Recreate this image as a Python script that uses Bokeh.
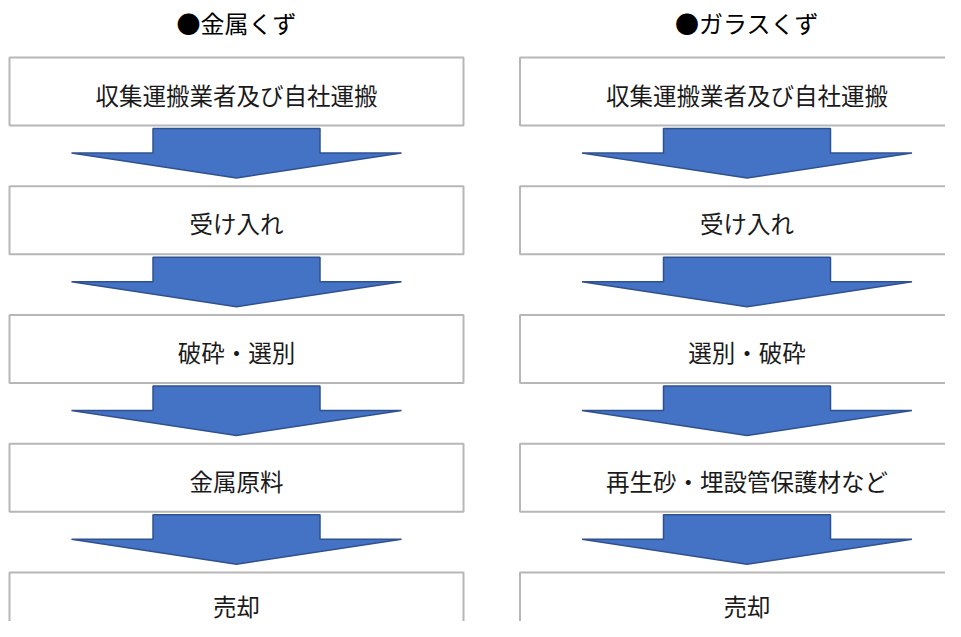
from bokeh.plotting import figure
from bokeh.models import Range1d
from bokeh.core.properties import value
from bokeh.embed import file_html
from bokeh.resources import INLINE

# ---- data ----
titles = ["●金属くず", "●ガラスくず"]
metal_steps = ["収集運搬業者及び自社運搬", "受け入れ", "破砕・選別", "金属原料", "売却"]
glass_steps = ["収集運搬業者及び自社運搬", "受け入れ", "選別・破砕", "再生砂・埋設管保護材など", "売却"]
columns = [metal_steps, glass_steps]

# ---- layout (screen pixel coordinates) ----
W, H = 945, 621
col_centers = [236, 746.5]
box_half = 227
box_top0 = 57
box_pitch = 128.75
box_h = 68
shaft_half = 83.5
wing_half = 165
FONT = value("Noto Sans CJK JP")

p = figure(width=W, height=H, output_backend="svg", toolbar_location=None,
           x_range=Range1d(0, W), y_range=Range1d(H, 0),
           min_border=0, min_border_left=0, min_border_right=0,
           min_border_top=0, min_border_bottom=0)
p.axis.visible = False
p.grid.visible = False
p.outline_line_color = None
p.background_fill_color = "white"
p.border_fill_color = "white"

bx, by, bw, bh, tx, ty, tt = [], [], [], [], [], [], []
axs, ays = [], []
for cx, steps in zip(col_centers, columns):
    for i, label in enumerate(steps):
        top = box_top0 + i * box_pitch
        bx.append(cx)
        by.append(top + box_h / 2)
        bw.append(2 * box_half)
        bh.append(box_h)
        tx.append(cx)
        ty.append(min(top + box_h / 2 + 3, H - 16))
        tt.append(label)
        if i < len(steps) - 1:
            bot = top + box_h
            s_top = bot + 3
            sh = bot + 27.5
            tip = bot + 52.5
            axs.append([cx - shaft_half, cx + shaft_half, cx + shaft_half,
                        cx + wing_half, cx, cx - wing_half, cx - shaft_half])
            ays.append([s_top, s_top, sh, sh, tip, sh, sh])

p.rect(x=bx, y=by, width=bw, height=bh, fill_color="white",
       line_color="#b7b7b7", line_width=2)
p.patches(xs=axs, ys=ays, fill_color="#4472C4", line_color="#2F528F",
          line_width=1.5)
p.text(x=tx, y=ty, text=tt, text_font=FONT, text_font_size="23.5px",
       text_align="center", text_baseline="middle", text_color="#1a1a1a")
p.text(x=col_centers, y=[22, 22], text=titles, text_font=FONT,
       text_font_size="24px", text_align="center", text_baseline="middle",
       text_color="#000000")

open("out.html", "w").write(file_html(p, INLINE))
